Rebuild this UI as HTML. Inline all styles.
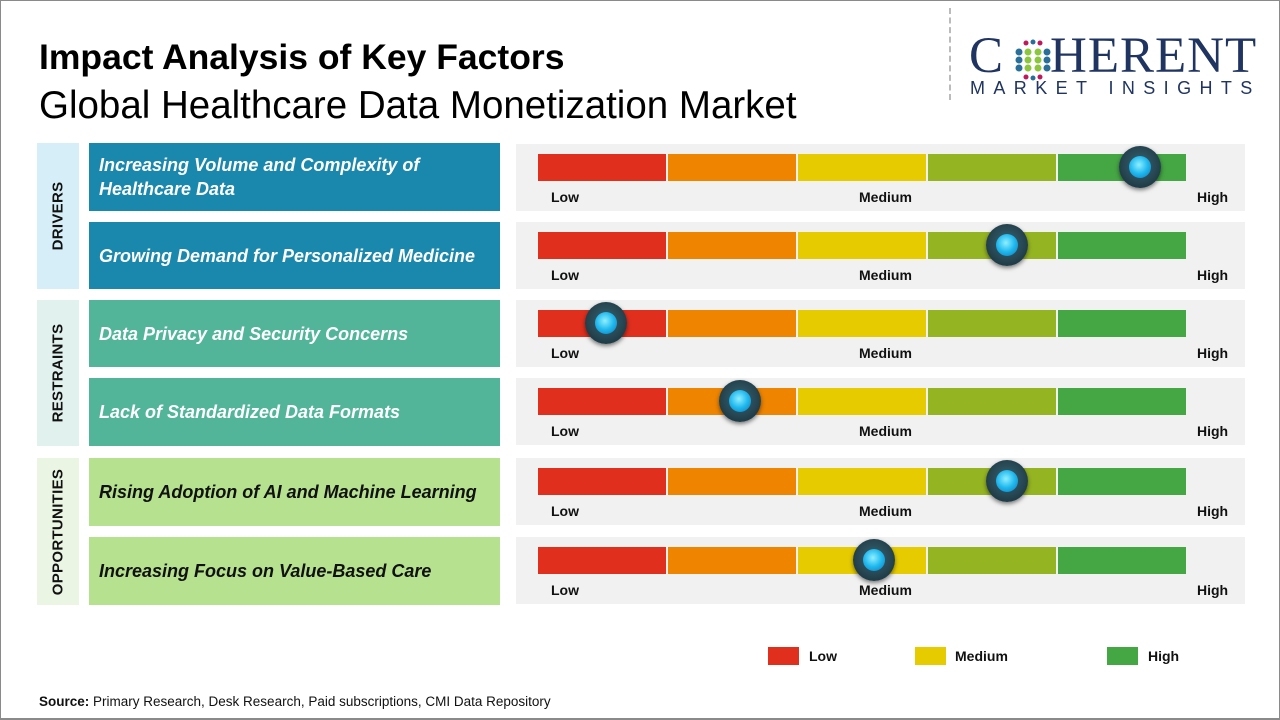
<!DOCTYPE html>
<html><head><meta charset="utf-8"><style>
*{margin:0;padding:0;box-sizing:border-box}
body{width:1280px;height:720px;position:relative;background:#fff;font-family:"Liberation Sans",sans-serif;overflow:hidden}
.frame{position:absolute;left:0;top:0;width:1280px;height:720px;border:1px solid #8a8a8a;border-bottom:2px solid #8a8a8a}
.a{position:absolute}
.cat{position:absolute;left:37px;width:42px}
.cat span{position:absolute;left:50%;top:50%;transform:translate(-50%,-50%) rotate(-90deg);font-weight:bold;font-size:15px;color:#111;white-space:nowrap;letter-spacing:0.3px}
.lab{position:absolute;left:89px;width:411px;display:flex;align-items:center;padding-left:10px;font-weight:bold;font-style:italic;font-size:18px;line-height:24px;white-space:nowrap}
.panel{position:absolute;left:516px;width:729px;background:#f1f1f1}
.seg{position:absolute;height:27px;top:10px;width:128px}
.tk{position:absolute;top:45px;font-weight:bold;font-size:14px;color:#111}
.knob{position:absolute;width:42px;height:42px;border-radius:50%;background:radial-gradient(circle at 50% 45%,#3a6472 0%,#24434f 60%,#122a33 100%);box-shadow:0 2px 4px rgba(0,0,0,.5)}
.knob::after{content:"";position:absolute;left:10px;top:10px;width:22px;height:22px;border-radius:50%;background:radial-gradient(circle at 45% 40%,#8ff0ff 0%,#1fb8ee 50%,#0a78b8 100%)}
.lg{position:absolute;top:647px;width:31px;height:18px}
.lgt{position:absolute;top:648px;font-size:14px;font-weight:bold;color:#111}
</style></head><body>
<div class="frame"></div>
<div class="a" style="left:39px;top:37px;font-size:35.5px;font-weight:bold;color:#000">Impact Analysis of Key Factors</div>
<div class="a" style="left:39px;top:84px;font-size:38.5px;color:#000">Global Healthcare Data Monetization Market</div>
<div class="a" style="left:949px;top:8px;height:92px;border-left:2px dashed #bbb"></div>
<div class="a" style="left:969px;top:28px;font-family:'Liberation Serif',serif;font-size:51px;color:#1f3461;letter-spacing:1px;line-height:56px">C<span style="display:inline-block;width:46px"></span>HERENT</div>
<svg class="a" style="left:1010px;top:38px" width="46" height="44" viewBox="0 0 46 44">
<g fill="#2a6f9a"><circle cx="9" cy="14" r="3.5"/><circle cx="9" cy="22" r="3.5"/><circle cx="9" cy="30" r="3.5"/><circle cx="37" cy="14" r="3.5"/><circle cx="37" cy="22" r="3.5"/><circle cx="37" cy="30" r="3.5"/></g>
<g fill="#8cc63f"><circle cx="18" cy="14" r="3.5"/><circle cx="28" cy="14" r="3.5"/><circle cx="18" cy="22" r="3.5"/><circle cx="28" cy="22" r="3.5"/><circle cx="18" cy="30" r="3.5"/><circle cx="28" cy="30" r="3.5"/></g>
<g fill="#c2185b"><circle cx="16" cy="5" r="2.5"/><circle cx="30" cy="5" r="2.5"/><circle cx="16" cy="39" r="2.5"/><circle cx="30" cy="39" r="2.5"/></g>
<g fill="#2a6f9a"><circle cx="23" cy="4" r="2.5"/><circle cx="23" cy="40" r="2.5"/></g></svg>
<div class="a" style="left:970px;top:78px;font-size:18px;color:#1f3461;letter-spacing:8.4px">MARKET INSIGHTS</div>

<div class="cat" style="top:143px;height:146px;background:#d6eef8"><span>DRIVERS</span></div>
<div class="cat" style="top:300px;height:146px;background:#e1f1ee"><span>RESTRAINTS</span></div>
<div class="cat" style="top:458px;height:147px;background:#eaf6e3"><span>OPPORTUNITIES</span></div>

<div class="lab" style="top:143px;height:68px;background:#1a87ad;color:#fff">Increasing Volume and Complexity of<br>Healthcare Data</div>
<div class="lab" style="top:222px;height:67px;background:#1a87ad;color:#fff">Growing Demand for Personalized Medicine</div>
<div class="lab" style="top:300px;height:67px;background:#52b59a;color:#fff">Data Privacy and Security Concerns</div>
<div class="lab" style="top:378px;height:68px;background:#52b59a;color:#fff">Lack of Standardized Data Formats</div>
<div class="lab" style="top:458px;height:68px;background:#b6e290;color:#111">Rising Adoption of AI and Machine Learning</div>
<div class="lab" style="top:537px;height:68px;background:#b6e290;color:#111">Increasing Focus on Value-Based Care</div>

<div id="panels"></div>
<script>
var tops=[144,222,300,378,458,537],kx=[1140,1007,606,740,1007,874];
var cols=["#e02f1d","#ee8400","#e6cb00","#95b422","#45a644"];
var h="";
for(var i=0;i<6;i++){
 h+='<div class="panel" style="top:'+tops[i]+'px;height:67px">';
 for(var j=0;j<5;j++)h+='<div class="seg" style="left:'+(22+j*130)+'px;background:'+cols[j]+'"></div>';
 h+='<div class="tk" style="left:35px">Low</div><div class="tk" style="left:343px">Medium</div><div class="tk" style="left:681px">High</div></div>';
 h+='<div class="knob" style="left:'+(kx[i]-21)+'px;top:'+(tops[i]+2)+'px"></div>';
}
document.getElementById("panels").innerHTML=h;
</script>

<div class="lg" style="left:768px;background:#e02f1d"></div><div class="lgt" style="left:809px">Low</div>
<div class="lg" style="left:915px;background:#e6cb00"></div><div class="lgt" style="left:955px">Medium</div>
<div class="lg" style="left:1107px;background:#45a644"></div><div class="lgt" style="left:1148px">High</div>

<div class="a" style="left:39px;top:694px;font-size:13.5px;color:#111"><b>Source:</b> Primary Research, Desk Research, Paid subscriptions, CMI Data Repository</div>
</body></html>
